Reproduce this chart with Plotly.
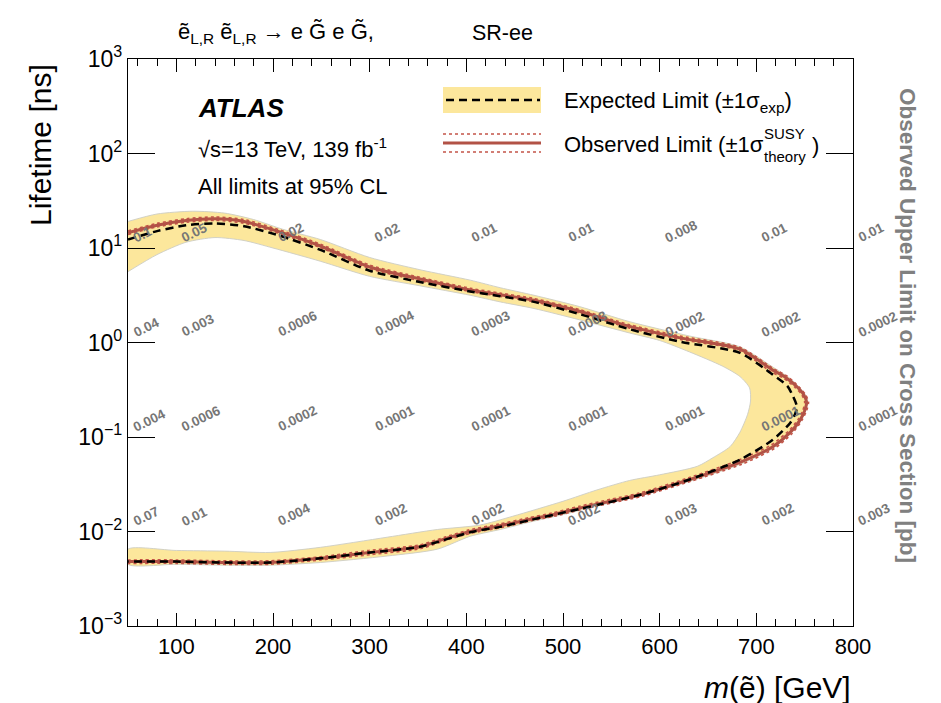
import numpy as np
import plotly.graph_objects as go

# ---------------- data ----------------
# Observed limit contour (slepton mass [GeV], lifetime [ns]), traced from upper branch round the tip to lower branch
obs_mass = [50, 80, 110, 140, 170, 207, 249, 300, 352, 404, 435, 470, 517, 569, 621, 683, 717, 730, 742,
            749, 752, 750, 745, 735, 717, 683, 631, 580, 550, 518, 490, 466, 435, 404, 380, 352, 300, 249,
            197, 145, 100, 50]
obs_tau = [14.5, 17.4, 19.5, 20.4, 19.1, 14.8, 10.5, 6.3, 4.7, 3.6, 3.2, 2.8, 2.14, 1.48, 1.12, 0.85, 0.51,
           0.43, 0.34, 0.28, 0.234, 0.19, 0.15, 0.112, 0.079, 0.054, 0.0355, 0.0245, 0.021, 0.0178, 0.0151,
           0.0135, 0.0115, 0.0100, 0.0085, 0.0069, 0.0060, 0.0052, 0.0047, 0.0047, 0.0048, 0.0048]

# Observed limit with +1 sigma / -1 sigma theory cross-section variation
theo_up_mass = [50, 80, 110, 140, 170, 207, 249, 300, 352, 404, 435, 470, 517, 569, 621, 683, 717, 732, 744,
                751, 754, 752, 747, 737, 719, 685, 632, 581, 551, 519, 491, 467, 436, 405, 381, 353, 301, 249,
                197, 145, 100, 50]
theo_up_tau = [15.2, 18.2, 20.4, 21.3, 20.0, 15.5, 11.0, 6.6, 4.9, 3.75, 3.33, 2.92, 2.23, 1.54, 1.17, 0.89,
               0.535, 0.44, 0.34, 0.28, 0.234, 0.19, 0.149, 0.109, 0.076, 0.0515, 0.034, 0.0235, 0.0201,
               0.0171, 0.0145, 0.0130, 0.0110, 0.0096, 0.0082, 0.0066, 0.0057, 0.0050, 0.0045, 0.0045,
               0.0046, 0.0046]
theo_dn_mass = [50, 80, 110, 140, 170, 207, 249, 300, 352, 404, 435, 470, 517, 569, 621, 683, 715, 728, 740,
                747, 750, 748, 743, 733, 715, 681, 630, 579, 549, 517, 489, 465, 434, 403, 379, 351, 299, 249,
                197, 145, 100, 50]
theo_dn_tau = [13.9, 16.7, 18.7, 19.6, 18.3, 14.2, 10.1, 6.05, 4.5, 3.46, 3.08, 2.69, 2.06, 1.42, 1.08, 0.82,
               0.49, 0.42, 0.335, 0.28, 0.234, 0.19, 0.152, 0.115, 0.082, 0.0565, 0.037, 0.0255, 0.0219,
               0.0185, 0.0157, 0.0140, 0.0120, 0.0104, 0.0088, 0.0072, 0.0063, 0.0054, 0.0049, 0.0049,
               0.0050, 0.0050]

# Expected limit contour
exp_mass = [50, 80, 110, 140, 170, 207, 249, 300, 352, 404, 435, 470, 517, 569, 621, 683, 717, 732, 738,
            742, 740, 735, 717, 683, 631, 580, 518, 466, 435, 404, 352, 300, 249, 197, 145, 100, 50]
exp_tau = [12.3, 15.1, 17.4, 18.2, 17.0, 13.5, 9.55, 5.75, 4.37, 3.47, 3.09, 2.69, 2.0, 1.38, 1.02, 0.776,
           0.457, 0.347, 0.269, 0.209, 0.174, 0.141, 0.0933, 0.0575, 0.0355, 0.0245, 0.0174, 0.0132, 0.0112,
           0.0098, 0.0069, 0.0060, 0.0052, 0.0047, 0.0047, 0.0048, 0.0048]

# Expected +1 sigma (outer) and -1 sigma (inner) contours
band_out_mass = [50, 80, 117, 150, 180, 210, 249, 300, 352, 404, 435, 470, 517, 569, 631, 683, 717, 735, 747,
                 753, 751, 745, 735, 717, 683, 631, 580, 540, 500, 466, 435, 404, 370, 318, 249, 197, 150, 100, 50]
band_out_tau = [19.1, 22.9, 24.5, 23.4, 20.0, 15.8, 12.3, 7.94, 5.89, 4.57, 3.80, 3.16, 2.40, 1.66, 1.17,
                0.90, 0.55, 0.417, 0.316, 0.251, 0.191, 0.141, 0.107, 0.0759, 0.0513, 0.0339, 0.0240,
                0.0191, 0.0151, 0.0126, 0.0105, 0.0089, 0.0065, 0.0055, 0.0047, 0.0044, 0.0044, 0.0045, 0.0045]
band_in_mass = [50, 80, 110, 140, 170, 200, 249, 300, 352, 404, 435, 470, 517, 569, 600, 631, 665, 683, 693,
                694, 691, 683, 673, 655, 639, 600, 569, 535, 500, 448, 414, 370, 318, 249, 197, 150, 100, 50]
band_in_tau = [5.62, 8.51, 11.5, 12.9, 12.0, 10.0, 7.24, 5.01, 3.98, 3.16, 2.69, 2.29, 1.74, 1.26, 1.05, 0.794,
               0.562, 0.437, 0.331, 0.240, 0.174, 0.112, 0.0794, 0.0603, 0.0490, 0.0398, 0.0347, 0.0275,
               0.0209, 0.0145, 0.0117, 0.0105, 0.0087, 0.0068, 0.0060, 0.0062, 0.0063, 0.0065]

# Observed cross-section upper limits [pb] printed on the grid
grid_mass = [50, 100, 200, 300, 400, 500, 600, 700, 800]
grid_tau = [10, 1, 0.1, 0.01]
xsec_limits = [
    ["0.1", "0.05", "0.02", "0.02", "0.01", "0.01", "0.008", "0.01", "0.01"],
    ["0.04", "0.003", "0.0006", "0.0004", "0.0003", "0.0003", "0.0002", "0.0002", "0.0002"],
    ["0.004", "0.0006", "0.0002", "0.0001", "0.0001", "0.0001", "0.0001", "0.0001", "0.0001"],
    ["0.07", "0.01", "0.004", "0.002", "0.002", "0.002", "0.003", "0.002", "0.003"],
]

# Axis ticks
y_tick_vals = [1e-3, 1e-2, 1e-1, 1e0, 1e1, 1e2, 1e3]
y_tick_text = ["10<sup>\u22123</sup>", "10<sup>\u22122</sup>", "10<sup>\u22121</sup>", "10<sup>0</sup>",
               "10<sup>1</sup>", "10<sup>2</sup>", "10<sup>3</sup>"]

# ---------------- styling ----------------
W, H = 941, 703
L, R, T, B = 128, 853, 59, 626
FONT = "Liberation Sans, Arial, Helvetica, sans-serif"
BAND = "rgb(252,231,156)"
OBS = "rgb(178,82,70)"
THEO = "rgb(196,84,72)"


def px(x):
    return (x - L) / (R - L)


def py(y):
    return (B - y) / (B - T)


fig = go.Figure()

# Expected +-1 sigma band as a closed ring
fig.add_trace(go.Scatter(
    x=band_out_mass + band_in_mass[::-1],
    y=band_out_tau + band_in_tau[::-1],
    mode="lines", fill="toself", fillcolor=BAND,
    line=dict(color="rgba(205,205,195,0.9)", width=1, shape="spline", smoothing=0.7),
    hoverinfo="skip", showlegend=False))

for m, t in ((theo_up_mass, theo_up_tau), (theo_dn_mass, theo_dn_tau)):
    fig.add_trace(go.Scatter(x=m, y=t, mode="lines",
                             line=dict(color=THEO, width=1.6, dash="dot", shape="spline", smoothing=0.7),
                             hoverinfo="skip", showlegend=False))

fig.add_trace(go.Scatter(x=obs_mass, y=obs_tau, mode="lines",
                         line=dict(color=OBS, width=3, shape="spline", smoothing=0.7),
                         hoverinfo="skip", showlegend=False))

fig.add_trace(go.Scatter(x=exp_mass, y=exp_tau, mode="lines",
                         line=dict(color="black", width=2.5, dash="8px,5px", shape="spline", smoothing=0.7),
                         hoverinfo="skip", showlegend=False))

annotations = []

# Cross-section limit labels
for row, tau in zip(xsec_limits, grid_tau):
    for m, txt in zip(grid_mass, row):
        annotations.append(dict(
            x=m, y=np.log10(tau), xref="x", yref="y", text=txt, showarrow=False,
            xanchor="left", yanchor="bottom", textangle=-26,
            font=dict(family=FONT, size=13.5, color="rgb(118,118,118)", weight="bold")))


def label(x, y, text, size, xanchor="left", yanchor="middle", angle=0, color="black", weight="normal",
          style="normal"):
    annotations.append(dict(
        x=px(x), y=py(y), xref="paper", yref="paper", text=text, showarrow=False,
        xanchor=xanchor, yanchor=yanchor, textangle=angle,
        font=dict(family=FONT, size=size, color=color, weight=weight, style=style)))


# Header
label(176, 33, "\u1ebd<sub>L,R</sub> \u1ebd<sub>L,R</sub> \u2192 e G\u0303 e G\u0303,", 22)
label(470, 33, "SR-ee", 21.5)

# ATLAS block
label(196, 108, "ATLAS", 26, weight="bold", style="italic")
label(196, 148, "\u221as=13 TeV, 139 fb<sup>-1</sup>", 22)
label(196, 186, "All limits at 95% CL", 22)

# Legend text
label(562, 102, "Expected Limit (\u00b11\u03c3<sub>exp</sub>)", 22)
label(562, 144, "Observed Limit (\u00b11\u03c3", 22)
label(762, 133, "SUSY", 15)
label(762, 156, "theory", 15)
label(810, 145, ")", 22)

# Axis titles
label(40, 62, "Lifetime [ns]", 30, xanchor="center", yanchor="top", angle=-90)
label(853, 687, "<i>m</i>(\u1ebd) [GeV]", 30, xanchor="right")
label(908, 325, "Observed Upper Limit on Cross Section [pb]", 22.5, xanchor="center", angle=90,
      color="rgb(128,128,128)", weight="bold")

# Legend symbols
shapes = [
    dict(type="rect", xref="paper", yref="paper", x0=px(443), x1=px(541), y0=py(113), y1=py(87),
         fillcolor=BAND, line=dict(width=0), layer="above"),
    dict(type="line", xref="paper", yref="paper", x0=px(446), x1=px(540), y0=py(100), y1=py(100),
         line=dict(color="black", width=2.5, dash="8px,5px"), layer="above"),
    dict(type="line", xref="paper", yref="paper", x0=px(443), x1=px(541), y0=py(143), y1=py(143),
         line=dict(color=OBS, width=3), layer="above"),
    dict(type="line", xref="paper", yref="paper", x0=px(443), x1=px(541), y0=py(134), y1=py(134),
         line=dict(color=THEO, width=1.6, dash="dot"), layer="above"),
    dict(type="line", xref="paper", yref="paper", x0=px(443), x1=px(541), y0=py(152), y1=py(152),
         line=dict(color=THEO, width=1.6, dash="dot"), layer="above"),
]

fig.update_layout(
    width=W, height=H,
    margin=dict(l=L, r=W - R, t=T, b=H - B),
    paper_bgcolor="white", plot_bgcolor="white",
    showlegend=False,
    annotations=annotations,
    shapes=shapes,
    font=dict(family=FONT, color="black"),
    xaxis=dict(
        range=[50, 800], tick0=0, dtick=100,
        ticks="inside", ticklen=13, tickwidth=1.2, tickcolor="black",
        minor=dict(dtick=20, tick0=0, ticks="inside", ticklen=7, tickwidth=1, tickcolor="black",
                   showgrid=False),
        showline=True, linecolor="black", linewidth=1.3, mirror="ticks",
        showgrid=False, zeroline=False,
        tickfont=dict(family=FONT, size=22, color="black"),
    ),
    yaxis=dict(
        type="log", range=[-3, 3],
        tickvals=y_tick_vals, ticktext=y_tick_text,
        ticks="inside", ticklen=27, tickwidth=1.2, tickcolor="black",
        showline=True, linecolor="black", linewidth=1.3, mirror="ticks",
        showgrid=False, zeroline=False,
        tickfont=dict(family=FONT, size=23, color="black"),
    ),
)

fig.write_html("out.html")
